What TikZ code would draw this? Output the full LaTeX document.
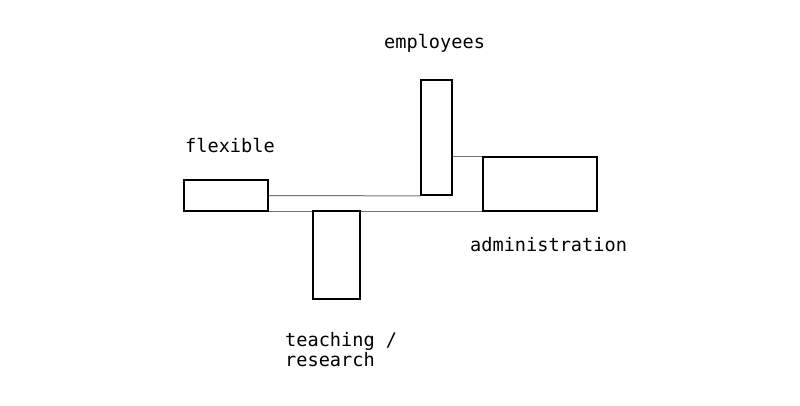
\documentclass[tikz,border=0pt]{standalone}
\usepackage{fontspec}
\setmonofont{DejaVu Sans Mono}
\begin{document}
\begin{tikzpicture}[x=1pt,y=-1pt,
  box/.style={draw=black,line width=1.8pt,fill=white,inner sep=0pt,minimum width=#1},
  conn/.style={draw=black!55,line width=1pt},
  lbl/.style={font=\ttfamily\fontsize{18.6}{20}\selectfont,inner sep=0pt,anchor=base west,align=left}]
\useasboundingbox (0,0) rectangle (800,406);
\node[box=84pt,minimum height=31pt] (flex) at (226,195.5) {};
\node[box=31pt,minimum height=115pt] (emp) at (436.5,137.5) {};
\node[box=114pt,minimum height=54pt] (adm) at (540,184) {};
\node[box=47pt,minimum height=88pt] (tea) at (336.5,255) {};
\draw[conn] (flex.east) -- (emp.south west);
\draw[conn] (flex.south east) -- (adm.south west);
\draw[conn] (emp.east |- adm.north west) -- (adm.north west);
\node[box=84pt,minimum height=31pt] at (flex) {};
\node[box=31pt,minimum height=115pt] at (emp) {};
\node[box=114pt,minimum height=54pt] at (adm) {};
\node[box=47pt,minimum height=88pt] at (tea) {};
\node[lbl] (lflex) at (185,153) {flexible};
\node[lbl] (lemp) at (384,49) {employees};
\node[lbl] (ladm) at (470,251) {administration};
\node[lbl] (ltea) at (285,366) {teaching /\\research};
\end{tikzpicture}
\end{document}
